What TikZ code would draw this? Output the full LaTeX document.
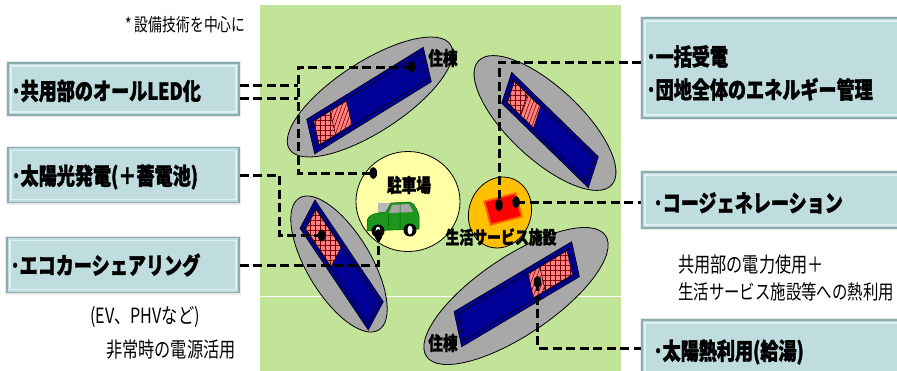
\documentclass[tikz,border=0pt]{standalone}
\usepackage{fontspec}
\newfontfamily\jp[FakeStretch=0.77, BoldFeatures={FakeBold=1.5}]{Noto Sans CJK JP}
\usetikzlibrary{calc,shapes.geometric,patterns.meta}

\definecolor{panelgreen}{RGB}{193,228,153}
\definecolor{lotgrey}{RGB}{168,168,168}
\definecolor{roofblue}{RGB}{0,0,150}
\definecolor{patchpink}{RGB}{255,130,130}
\definecolor{patchline}{RGB}{120,0,0}
\definecolor{parkyellow}{RGB}{255,255,165}
\definecolor{shoporange}{RGB}{255,192,0}
\definecolor{boxfill}{RGB}{191,221,223}
\definecolor{boxedge}{RGB}{140,172,176}
\definecolor{boxlight}{RGB}{222,239,240}
\definecolor{carbody}{RGB}{30,150,30}

\begin{document}
\begin{tikzpicture}[x=1pt,y=-1pt,
  lot/.style={draw=black, line width=0.8pt, fill=lotgrey},
  bldg/.style={draw=black, line width=0.6pt, fill=roofblue},
  bldgline/.style={draw=black, line width=0.6pt},
  gridpatch/.style={draw=black, line width=0.4pt, preaction={fill=patchpink},
    pattern={Hatch[angle=0,distance=5pt,line width=0.6pt]}, pattern color=patchline},
  linepatch/.style={draw=black, line width=0.4pt, preaction={fill=patchpink},
    pattern={Lines[angle=70,distance=3.5pt,line width=0.6pt]}, pattern color=patchline},
  conn/.style={draw=black, line width=3pt, dash pattern=on 9pt off 4.5pt},
  jdot/.style={ellipse, fill=black, inner sep=0pt, minimum width=7.5pt, minimum height=12pt},
  infobox/.style={draw=boxedge, line width=1.2pt, fill=boxfill, inner sep=0pt,
    preaction={draw=black!8, line width=4pt},
    path picture={\draw[boxlight, line width=1.5pt]
      ([shift={(3pt,-3pt)}]path picture bounding box.north west) rectangle
      ([shift={(-3pt,3pt)}]path picture bounding box.south east);}},
  boxtext/.style={font=\jp\bfseries\fontsize{23.5}{33}\selectfont, inner sep=0pt, anchor=west, align=left},
  note/.style={font=\jp\fontsize{21}{24}\selectfont, inner sep=0pt, anchor=west},
  lbl/.style={font=\jp\bfseries\fontsize{19}{20}\selectfont, inner sep=0pt}
]
\useasboundingbox (0,0) rectangle (897,370);
\clip (0,0) rectangle (897,370);

% site
\fill[panelgreen] (260,5) rectangle (621,380);
\draw[white, line width=1pt] (260,296) -- (621,296);

% building lots
\draw[lot, rotate around={33:(370,97)}] (370,97) ellipse [x radius=96pt, y radius=35pt];
\draw[lot, rotate around={-43:(545,123)}] (545,123) ellipse [x radius=91pt, y radius=36pt];
\draw[lot, rotate around={-59:(339,264)}] (339,264) ellipse [x radius=77pt, y radius=32pt];
\draw[lot, rotate around={34:(516,296)}] (516,296) ellipse [x radius=108pt, y radius=39pt];

% roof 1
\begin{scope}[shift={(306.7,119.3)}, x={(116.6pt,72pt)}, y={(8pt,-34.5pt)}]
  \draw[bldg] (0,0) -- (1,0) -- (1,1) -- (0,1) -- cycle;
  \draw[bldgline] (0.033,0.12) -- (0.967,0.12) -- (0.967,0.88) -- (0.033,0.88) -- cycle;
  \draw[gridpatch] (0.05,0.16) -- (0.19,0.16) -- (0.19,0.84) -- (0.05,0.84) -- cycle;
  \draw[linepatch] (0.19,0.16) -- (0.33,0.16) -- (0.33,0.84) -- (0.19,0.84) -- cycle;
\end{scope}
% roof 2
\begin{scope}[shift={(511.7,72.3)}, x={(86.6pt,-84.4pt)}, y={(-10pt,-31pt)}]
  \draw[bldg] (0,0) -- (1,0) -- (1,1) -- (0,1) -- cycle;
  \draw[bldgline] (0.033,0.12) -- (0.967,0.12) -- (0.967,0.88) -- (0.033,0.88) -- cycle;
  \draw[gridpatch] (0.05,0.16) -- (0.2,0.16) -- (0.2,0.84) -- (0.05,0.84) -- cycle;
  \draw[linepatch] (0.2,0.16) -- (0.35,0.16) -- (0.35,0.84) -- (0.2,0.84) -- cycle;
\end{scope}
% roof 3
\begin{scope}[shift={(315,200)}, x={(68.3pt,-101.7pt)}, y={(-15pt,-28.3pt)}]
  \draw[bldg] (0,0) -- (1,0) -- (1,1) -- (0,1) -- cycle;
  \draw[bldgline] (0.033,0.12) -- (0.967,0.12) -- (0.967,0.88) -- (0.033,0.88) -- cycle;
  \draw[gridpatch] (0.05,0.16) -- (0.42,0.16) -- (0.42,0.84) -- (0.05,0.84) -- cycle;
\end{scope}
% roof 4
\begin{scope}[shift={(454,311.7)}, x={(117.7pt,70pt)}, y={(7.7pt,-35pt)}]
  \draw[bldg] (0,0) -- (1,0) -- (1,1) -- (0,1) -- cycle;
  \draw[bldgline] (0.033,0.12) -- (0.967,0.12) -- (0.967,0.88) -- (0.033,0.88) -- cycle;
  \draw[linepatch] (0.62,0.16) -- (0.72,0.16) -- (0.72,0.84) -- (0.62,0.84) -- cycle;
  \draw[gridpatch] (0.72,0.16) -- (0.95,0.16) -- (0.95,0.84) -- (0.72,0.84) -- cycle;
\end{scope}

% parking and service facility
\draw[fill=parkyellow, line width=0.8pt] (408,201.5) ellipse [x radius=52pt, y radius=50pt];
\draw[fill=shoporange, line width=0.8pt, rotate around={-20:(500,212.5)}] (500,212.5) ellipse [x radius=31pt, y radius=36pt];
\fill[red, opacity=0.5, rotate around={15:(503,209)}] (486,196) rectangle (520,222);
\fill[red, rotate around={15:(503,209)}] (488,198) rectangle (518,220);

% car
\fill[gray!55] (378,203) rectangle (415,213);
\draw[fill=carbody, draw=black!60!green, line width=0.5pt]
  (367,231) -- (367,221) .. controls (368,216) and (372,214) .. (378,213) -- (386,212)
  -- (391,203) -- (410,202) .. controls (415,205) and (418,210) .. (419,216) -- (419,229) -- cycle;
\fill[gray!70] (392,205) -- (409,204) -- (413,212) -- (389,213) -- cycle;
\draw[black!60!green, line width=0.5pt] (400,204) -- (400,230) (388,213) -- (389,230);
\fill[black] (378,231) circle (6.5pt);
\fill[white] (378,231) ellipse [x radius=2.5pt, y radius=4.5pt];
\fill[black] (410,230) circle (6.5pt);
\fill[white] (410,230) ellipse [x radius=2.5pt, y radius=4.5pt];

% labels on the site
\node[lbl] (lb1) at (443,58) {住棟};
\node[lbl] (lb2) at (443,343) {住棟};
\node[lbl] (lbp) at (409,185) {駐車場};
\node[lbl, font=\jp\bfseries\fontsize{18}{20}\selectfont] (lbs) at (501,237) {生活サービス施設};

% measure boxes
\node[infobox, minimum width=231pt, minimum height=52pt] (b1) at (123.5,89) {};
\node[infobox, minimum width=231pt, minimum height=55pt] (b2) at (123.5,175) {};
\node[infobox, minimum width=232pt, minimum height=55pt] (b3) at (123,265) {};
\node[infobox, minimum width=268pt, minimum height=100pt] (r1) at (776,68) {};
\node[infobox, minimum width=268pt, minimum height=56pt] (r2) at (776,200) {};
\node[infobox, minimum width=268pt, minimum height=56pt] (r3) at (776,348) {};

\node[boxtext] (t1) at ([xshift=4pt,yshift=-2pt]b1.west) {･共用部のオールLED化};
\node[boxtext] (t2) at ([xshift=4pt,yshift=-2pt]b2.west) {･太陽光発電(＋蓄電池)};
\node[boxtext] (t3) at ([xshift=4pt]b3.west) {･エコカーシェアリング};
\node[boxtext] (t4) at ([xshift=5pt,yshift=-5pt]r1.west) {･一括受電\\･団地全体のエネルギー管理};
\node[boxtext] (t5) at ([xshift=12pt,yshift=-3pt]r2.west) {･コージェネレーション};
\node[boxtext] (t6) at ([xshift=12pt,yshift=-4pt]r3.west) {･太陽熱利用(給湯)};

% notes
\node[note, font=\jp\fontsize{18}{20}\selectfont] (n0) at (125,25) {* 設備技術を中心に};
\node[note] (n1) at (90,317) {(EV、PHVなど)};
\node[note] (n2) at (106,350) {非常時の電源活用};
\node[note] (n3) at (678,265) {共用部の電力使用＋};
\node[note, font=\jp\fontsize{20}{24}\selectfont] (n4) at (678,292) {生活サービス施設等への熱利用};

% connection points
\coordinate (p1) at (411.7,67);
\coordinate (pp) at (373.3,173);
\coordinate (p3) at (321.7,235.5);
\coordinate (pc) at (378.5,235);
\coordinate (po1) at (499,205);
\coordinate (po2) at (516,202);
\coordinate (p4) at (537.5,282);
\coordinate (ja) at (298,0);
\coordinate (jc) at (279,0);
\coordinate (b1top) at ($(b1.east)+(0,-4)$);
\coordinate (b1bot) at ($(b1.east)+(0,9)$);
\coordinate (r1line) at ($(r1.west)+(0,-6)$);

% connectors
\draw[conn] (b1top) -- (b1top -| ja);
\draw[conn] (b1bot) -- (b1bot -| ja);
\draw[conn] (p1) -- (p1 -| ja) -- (pp -| ja) -- (pp);
\draw[conn] (b2.east) -- (b2.east -| jc) -- (p3 -| jc) -- (p3);
\draw[conn] (b3.east) -- (b3.east -| pc) -- (pc);
\draw[conn] (r1line) -- (r1line -| po1) -- (po1);
\draw[conn] (po2) -- (po2 -| r2.west);
\draw[conn] (p4) -- (p4 |- r3.west) -- (r3.west);

% connection dots
\node[jdot] (d1) at (p1) {};
\node[jdot] (dp) at (pp) {};
\node[jdot] (d3) at (p3) {};
\node[jdot] (dc) at (pc) {};
\node[jdot] (do1) at (po1) {};
\node[jdot] (do2) at (po2) {};
\node[jdot] (d4) at (p4) {};
\end{tikzpicture}
\end{document}
